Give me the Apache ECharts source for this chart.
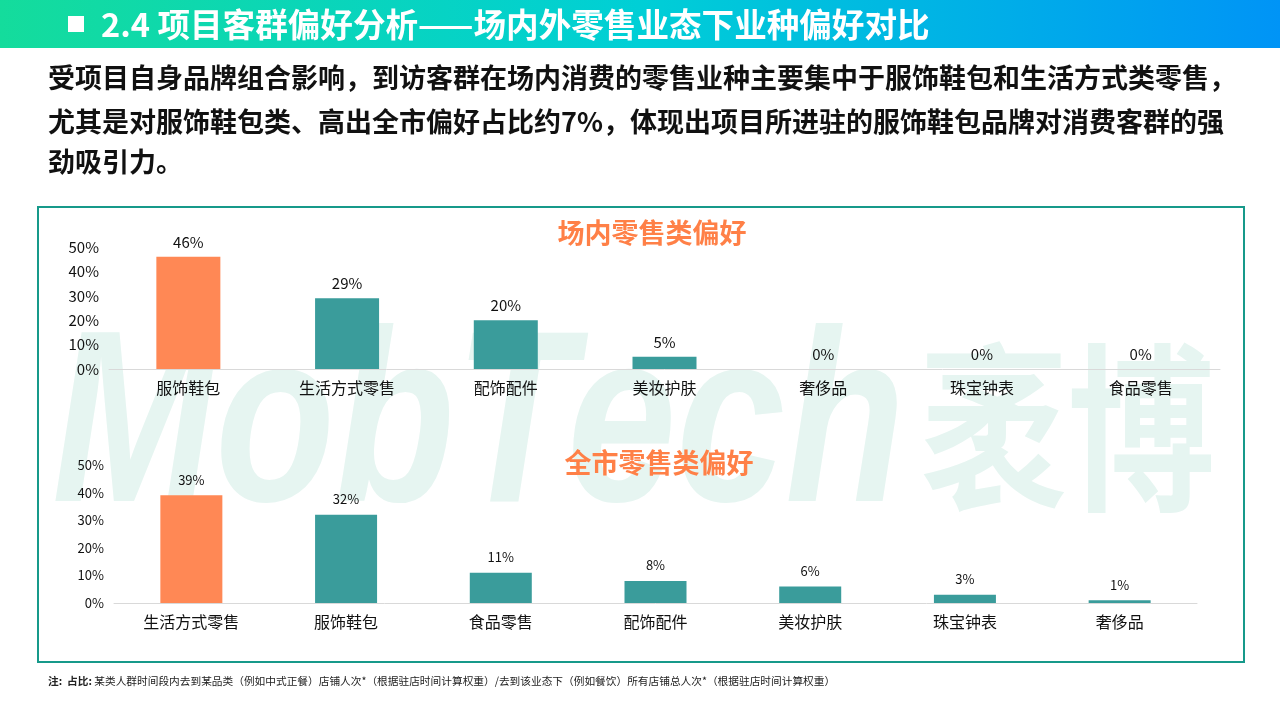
<!DOCTYPE html>
<html><head><meta charset="utf-8">
<script src="https://cdn.jsdelivr.net/npm/echarts@6/dist/echarts.min.js"></script>
<style>html,body{margin:0;padding:0;background:#fff}#c{width:1280px;height:720px}</style>
</head><body><div id="c"></div>
<script>
var cats1 = ['服饰鞋包','生活方式零售','配饰配件','美妆护肤','奢侈品','珠宝钟表','食品零售'];
var vals1 = [46, 29, 20, 5, 0, 0, 0];
var cats2 = ['生活方式零售','服饰鞋包','食品零售','配饰配件','美妆护肤','珠宝钟表','奢侈品'];
var vals2 = [39, 32, 11, 8, 6, 3, 1];
var title1 = '场内零售类偏好';
var title2 = '全市零售类偏好';
var pageTitle = '2.4 项目客群偏好分析——场内外零售业态下业种偏好对比';
var paraLines = [
  '受项目自身品牌组合影响，到访客群在场内消费的零售业种主要集中于服饰鞋包和生活方式类零售，',
  '尤其是对服饰鞋包类、高出全市偏好占比约7%，体现出项目所进驻的服饰鞋包品牌对消费客群的强',
  '劲吸引力。'
];
var ORANGE = '#FF8855', TEAL = '#3A9C9B';
var FONT = '"Noto Sans CJK SC", "Noto Sans", sans-serif';

function colored(vals){
  return vals.map(function(v,i){ return {value:v, itemStyle:{color: i===0?ORANGE:TEAL}}; });
}
var chart = echarts.init(document.getElementById('c'));
var graphics = [
  {type:'rect', shape:{x:0,y:0,width:1280,height:48}, z:1,
   style:{fill:new echarts.graphic.LinearGradient(0,0,1,0,[{offset:0,color:'#14dc9c'},{offset:0.5,color:'#00cfd6'},{offset:1,color:'#0094f6'}])}},
  {type:'rect', shape:{x:68,y:16,width:16,height:16}, z:2, style:{fill:'#fff'}},
  {type:'text', x:101, y:25, z:2, style:{text:pageTitle, fill:'#fff', font:'bold 32.6px '+FONT, verticalAlign:'middle'}},
  {type:'text', x:48, y:78, style:{text:paraLines[0], fill:'#111', font:'bold 27px '+FONT, verticalAlign:'middle'}},
  {type:'text', x:48, y:122, style:{text:paraLines[1], fill:'#111', font:'bold 27px '+FONT, verticalAlign:'middle'}},
  {type:'text', x:48, y:162, style:{text:paraLines[2], fill:'#111', font:'bold 27px '+FONT, verticalAlign:'middle'}},
  {type:'text', x:52, y:556, z:0, scaleX:0.8, style:{text:'MobTech', fill:'#e6f5f1', font:'italic bold 245px "Liberation Sans", sans-serif', verticalAlign:'bottom'}},
  {type:'text', x:920, y:518, z:0, scaleX:0.82, style:{text:'袤博', fill:'#e6f5f1', font:'bold 180px '+FONT, verticalAlign:'bottom'}},
  {type:'rect', shape:{x:38,y:207,width:1206,height:455}, z:1, style:{fill:null, stroke:'#16998a', lineWidth:2}},
  {type:'text', x:652, y:233, z:3, style:{text:title1, fill:'#FF8047', font:'bold 27px '+FONT, align:'center', verticalAlign:'middle'}},
  {type:'text', x:659, y:463, z:3, style:{text:title2, fill:'#FF8047', font:'bold 27px '+FONT, align:'center', verticalAlign:'middle'}},
  {type:'text', x:48, y:681, z:3, style:{
    text:'{b|注:  占比:} 某类人群时间段内去到某品类（例如中式正餐）店铺人次*（根据驻店时间计算权重）/去到该业态下（例如餐饮）所有店铺总人次*（根据驻店时间计算权重）',
    fill:'#222', font:'10.7px '+FONT, verticalAlign:'middle',
    rich:{b:{fontWeight:'bold', fontSize:10.7, fontFamily:FONT, fill:'#222'}}}}
];
chart.setOption({
  animation:false,
  textStyle:{fontFamily:FONT},
  graphic:graphics,
  grid:[
    {left:109, width:1111, top:247, height:122},
    {left:114, width:1083, top:465, height:138}
  ],
  xAxis:[
    {gridIndex:0, type:'category', data:cats1, axisTick:{show:false}, axisLine:{lineStyle:{color:'#d9d9d9'}},
     axisLabel:{color:'#111', fontSize:16, margin:11}},
    {gridIndex:1, type:'category', data:cats2, axisTick:{show:false}, axisLine:{lineStyle:{color:'#d9d9d9'}},
     axisLabel:{color:'#111', fontSize:16, margin:11}}
  ],
  yAxis:[
    {gridIndex:0, type:'value', min:0, max:50, interval:10, splitLine:{show:false}, axisLine:{show:false},
     axisLabel:{formatter:'{value}%', color:'#111', fontSize:15, margin:10}},
    {gridIndex:1, type:'value', min:0, max:50, interval:10, splitLine:{show:false}, axisLine:{show:false},
     axisLabel:{formatter:'{value}%', color:'#111', fontSize:13, margin:10}}
  ],
  series:[
    {type:'bar', xAxisIndex:0, yAxisIndex:0, data:colored(vals1), barWidth:64, z:5,
     label:{show:true, position:'top', formatter:'{c}%', color:'#111', fontSize:15, distance:7}},
    {type:'bar', xAxisIndex:1, yAxisIndex:1, data:colored(vals2), barWidth:62, z:5,
     label:{show:true, position:'top', formatter:'{c}%', color:'#111', fontSize:13, distance:9}}
  ]
});
</script></body></html>
